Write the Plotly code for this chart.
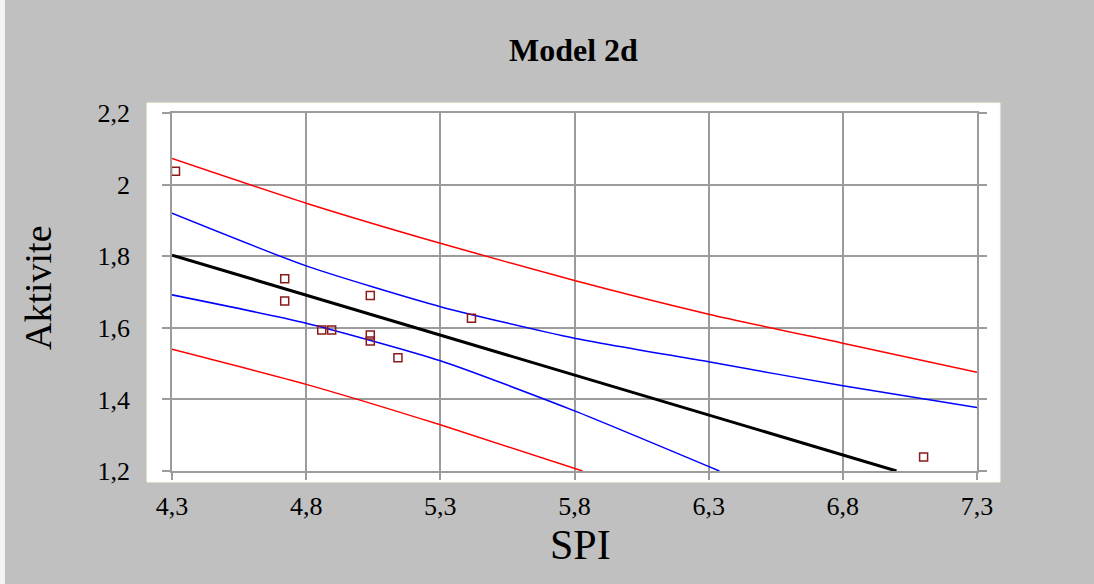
import plotly.graph_objects as go

# Observed samples
spi = [4.313, 4.72, 4.72, 4.858, 4.895, 5.039, 5.039, 5.039, 5.142, 5.416, 7.101]
aktivite = [2.037, 1.737, 1.675, 1.594, 1.594, 1.690, 1.580, 1.563, 1.516, 1.627, 1.239]

# Fitted line
fit_x = [4.3, 7.0]
fit_y = [1.803, 1.2]

# Confidence band (blue)
conf_up_x = [4.3, 4.8, 5.3, 5.8, 6.3, 6.8, 7.3]
conf_up_y = [1.920, 1.773, 1.659, 1.571, 1.505, 1.438, 1.377]
conf_lo_x = [4.3, 4.8, 5.3, 5.8, 6.34]
conf_lo_y = [1.692, 1.613, 1.508, 1.368, 1.2]

# Prediction band (red)
pred_up_x = [4.3, 4.8, 5.3, 5.8, 6.3, 6.8, 7.3]
pred_up_y = [2.073, 1.948, 1.836, 1.732, 1.638, 1.557, 1.476]
pred_lo_x = [4.3, 4.8, 5.3, 5.83]
pred_lo_y = [1.540, 1.442, 1.329, 1.2]

x_ticks = [4.3, 4.8, 5.3, 5.8, 6.3, 6.8, 7.3]
x_tick_labels = ["4,3", "4,8", "5,3", "5,8", "6,3", "6,8", "7,3"]
y_ticks = [1.2, 1.4, 1.6, 1.8, 2.0, 2.2]
y_tick_labels = ["1,2", "1,4", "1,6", "1,8", "2", "2,2"]

W, H = 1094, 584
ML, MR, MT, MB = 172, 117, 113, 113
PW, PH = W - ML - MR, H - MT - MB


def px_x(p):
    return (p - ML) / PW


def px_y(p):
    return (H - MB - p) / PH


fig = go.Figure()

for xs, ys, col in [(pred_up_x, pred_up_y, "#ff0000"), (pred_lo_x, pred_lo_y, "#ff0000"),
                    (conf_up_x, conf_up_y, "#0000ff"), (conf_lo_x, conf_lo_y, "#0000ff")]:
    fig.add_trace(go.Scatter(x=xs, y=ys, mode="lines",
                             line=dict(color=col, width=1.5, shape="spline", smoothing=0.6),
                             hoverinfo="skip", showlegend=False))

fig.add_trace(go.Scatter(x=fit_x, y=fit_y, mode="lines",
                         line=dict(color="#000000", width=3), showlegend=False))

fig.add_trace(go.Scatter(x=spi, y=aktivite, mode="markers",
                         marker=dict(symbol="square-open", size=8, color="#8b1a1a",
                                     line=dict(width=1.5, color="#8b1a1a")),
                         showlegend=False))

serif = "Liberation Serif, Times New Roman, serif"
grid = "#9c9c9c"

fig.update_layout(
    width=W, height=H,
    margin=dict(l=ML, r=MR, t=MT, b=MB),
    paper_bgcolor="#c0c0c0",
    plot_bgcolor="#ffffff",
    font=dict(family=serif, color="#000000"),
    xaxis=dict(range=[4.3, 7.3], tickvals=x_ticks, ticktext=x_tick_labels,
               showgrid=True, gridcolor=grid, gridwidth=1.5, zeroline=False,
               showline=True, linecolor=grid, linewidth=1.5, mirror=True,
               ticks="outside", ticklen=7, tickcolor=grid, tickwidth=1.5,
               ticklabelstandoff=4, tickfont=dict(size=26, family=serif)),
    yaxis=dict(range=[1.2, 2.2], tickvals=y_ticks, ticktext=y_tick_labels,
               showgrid=True, gridcolor=grid, gridwidth=1.5, zeroline=False,
               showline=True, linecolor=grid, linewidth=1.5, mirror="ticks",
               ticks="outside", ticklen=8, tickcolor=grid, tickwidth=1.5,
               ticklabelstandoff=27, tickfont=dict(size=26, family=serif)),
    shapes=[
        # white panel behind the axes
        dict(type="rect", xref="paper", yref="paper", layer="below",
             x0=px_x(147), x1=px_x(1000), y0=px_y(482), y1=px_y(103),
             fillcolor="#ffffff", line=dict(color="#fbfbe6", width=1)),
        # thin light border on the page edge
        dict(type="rect", xref="paper", yref="paper", layer="below",
             x0=px_x(0), x1=px_x(5), y0=px_y(H), y1=px_y(0),
             fillcolor="#f4f4f4", line=dict(width=0)),
    ],
    annotations=[
        dict(text="<b>Model 2d</b>", xref="paper", yref="paper",
             x=px_x(573), y=px_y(50), xanchor="center", yanchor="middle",
             showarrow=False, font=dict(size=32, family=serif)),
        dict(text="Aktivite", xref="paper", yref="paper",
             x=px_x(38), y=px_y(288), xanchor="center", yanchor="middle",
             textangle=-90, showarrow=False, font=dict(size=38, family=serif)),
        dict(text="SPI", xref="paper", yref="paper",
             x=px_x(580), y=px_y(545), xanchor="center", yanchor="middle",
             showarrow=False, font=dict(size=42, family=serif)),
    ],
)

fig.write_html("out.html")
